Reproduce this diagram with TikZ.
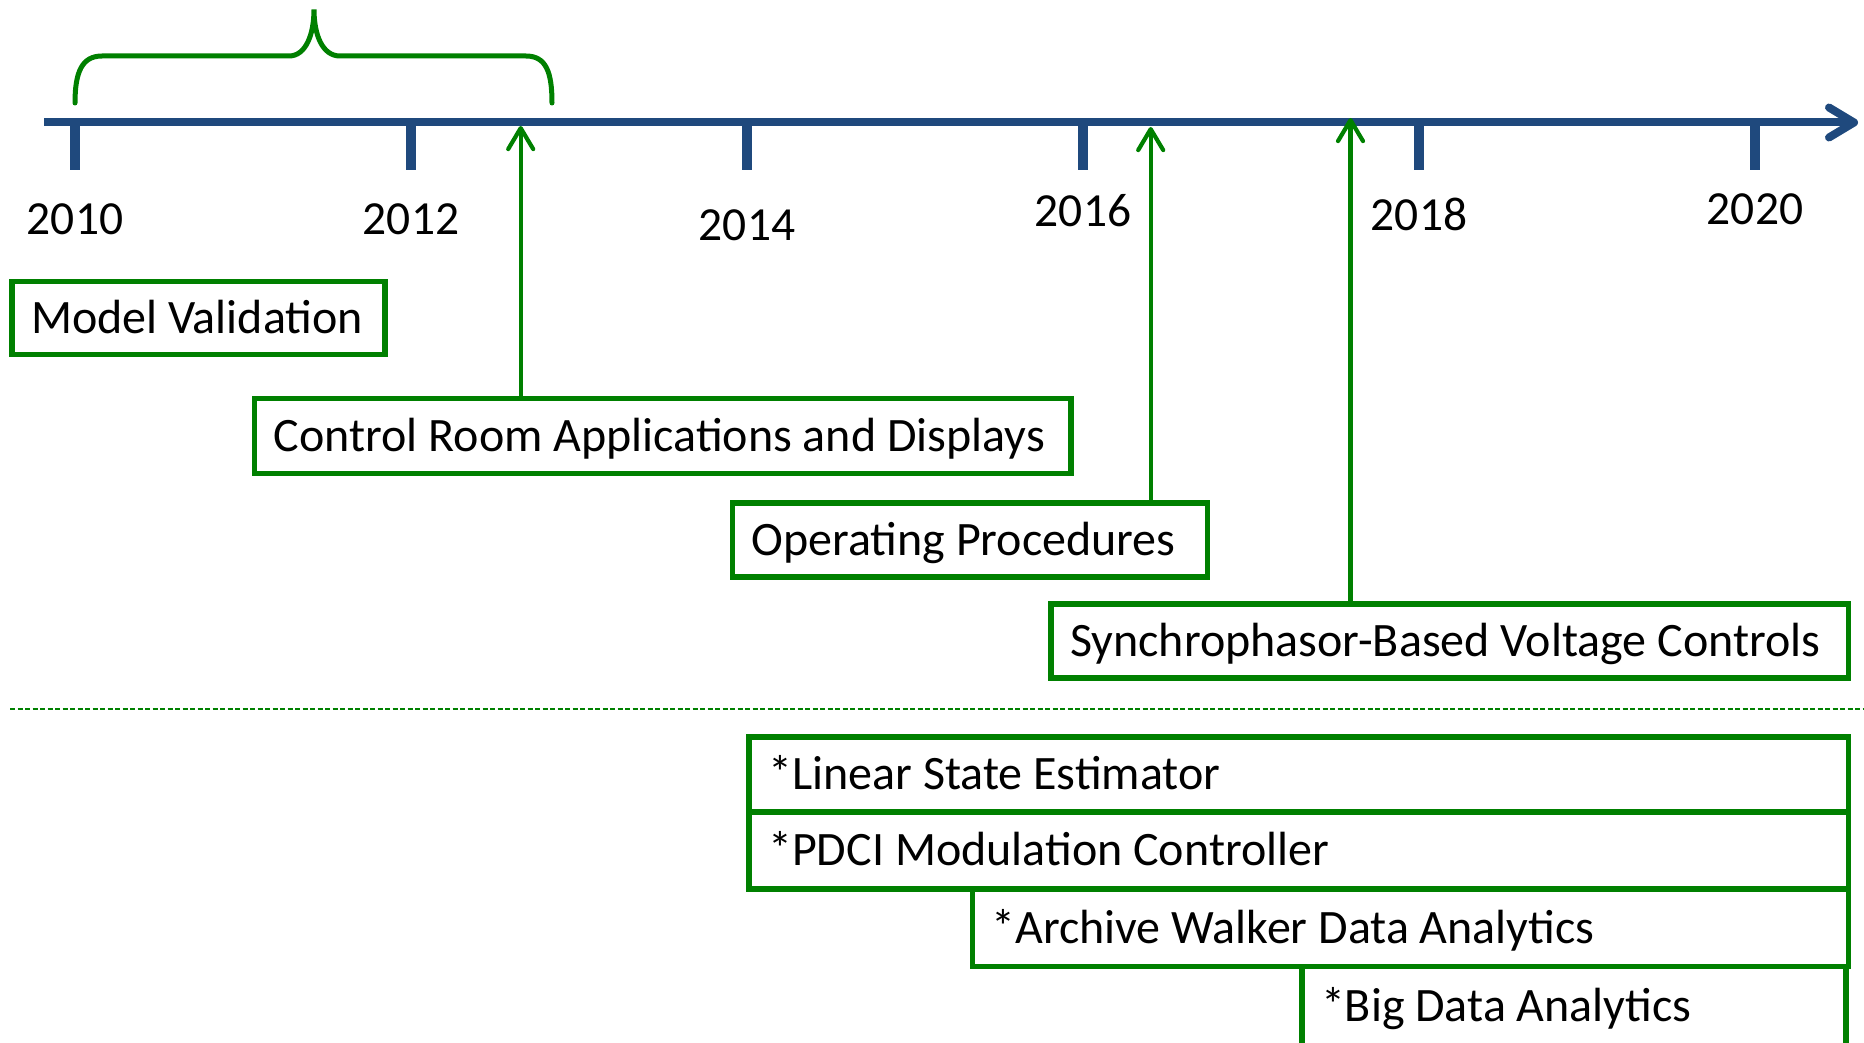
\documentclass[tikz,border=0pt]{standalone}
\usepackage{fontspec}
\setmainfont{Carlito}
\usetikzlibrary{arrows.meta}
\definecolor{axisblue}{RGB}{31,73,125}
\definecolor{boxgreen}{RGB}{0,128,0}
\newcommand\boxtxt[2]{\makebox[#1][l]{#2}}
\tikzset{
  bigfont/.style={font=\fontsize{48}{57}\selectfont},
  yearfont/.style={font=\fontsize{47.5}{57}\selectfont},
  itembox/.style={draw=boxgreen, line width=5.5pt, fill=white, anchor=north west, outer sep=0pt,
    inner xsep=19pt, inner ysep=0pt, text height=38.5pt, text depth=8pt, bigfont},
  yearlabel/.style={inner sep=0pt, text height=30pt, text depth=0pt, yearfont},
  tickmark/.style={draw=axisblue, line width=10pt},
  uparrow/.style={draw=boxgreen, line width=4.2pt, -{Straight Barb[length=21pt,width=25pt,round]}},
}
\begin{document}
\begin{tikzpicture}[x=1pt,y=-1pt]
\useasboundingbox (0,0) rectangle (1864,1043);
% axis
\coordinate (axS) at (44,122.5);
\coordinate (axE) at (1858,122.5);
\draw[axisblue, line width=8pt, -{Straight Barb[length=25pt,width=30pt,round]}] (axS) -- (axE);
% ticks and years
\foreach \i/\yr/\ly in {0/2010/220,1/2012/220,2/2014/226,3/2016/211.5,4/2018/216,5/2020/210}{
  \coordinate (t\yr) at (75+336*\i,122.5);
  \coordinate (tb\yr) at (75+336*\i,170);
  \draw[tickmark] (t\yr) -- (tb\yr);
  \node[yearlabel] (y\yr) at (75+336*\i,\ly) {\yr};
}
% brace
\draw[boxgreen, line width=5pt, line cap=round]
  (75,103) .. controls (75,72) and (82,56) .. (102,56) -- (289,56)
  .. controls (306,56) and (314,34) .. (314,9.5)
  .. controls (314,34) and (322,56) .. (340,56) -- (526,56)
  .. controls (546,56) and (552,72) .. (552,103);
% upper boxes
\node[itembox, minimum width=373pt, minimum height=73pt] (mv) at (12,281.5) {\boxtxt{335pt}{Model Validation}};
\node[itembox, minimum width=816.5pt, minimum height=75pt] (cr) at (254.5,398.5) {\boxtxt{778pt}{Control Room Applications and Displays}};
\node[itembox, minimum width=475pt, minimum height=74pt] (op) at (732.5,503) {\boxtxt{437pt}{Operating Procedures}};
\node[itembox, minimum width=797.5pt, minimum height=74pt] (sv) at (1051,604) {\boxtxt{759pt}{Synchrophasor-Based Voltage Controls}};
% arrows
\coordinate (a1) at (520.7,126);
\coordinate (a2) at (1150.7,127);
\coordinate (a3) at (1350.5,118);
\draw[uparrow] (cr.north -| a1) -- (a1);
\draw[uparrow] (op.north -| a2) -- (a2);
\draw[uparrow] (sv.north -| a3) -- (a3);
% separator
\coordinate (dl) at (10,708.5);
\coordinate (dr) at (1864,708.5);
\draw[boxgreen, line width=2pt, dash pattern=on 5pt off 2.5pt] (dl) -- (dr);
% lower boxes
\node[itembox, minimum width=1099.5pt, minimum height=75pt] (lse) at (749,737) {\boxtxt{1061pt}{*Linear State Estimator}};
\node[itembox, minimum width=1099.5pt, minimum height=77pt] (pdci) at (749,812) {\boxtxt{1061pt}{*PDCI Modulation Controller}};
\node[itembox, minimum width=876pt, minimum height=77.5pt] (aw) at (972.5,889) {\boxtxt{838pt}{*Archive Walker Data Analytics}};
\node[itembox, minimum width=544pt, minimum height=80pt] (bd) at (1302,966.5) {\boxtxt{506pt}{*Big Data Analytics}};
\end{tikzpicture}
\end{document}
